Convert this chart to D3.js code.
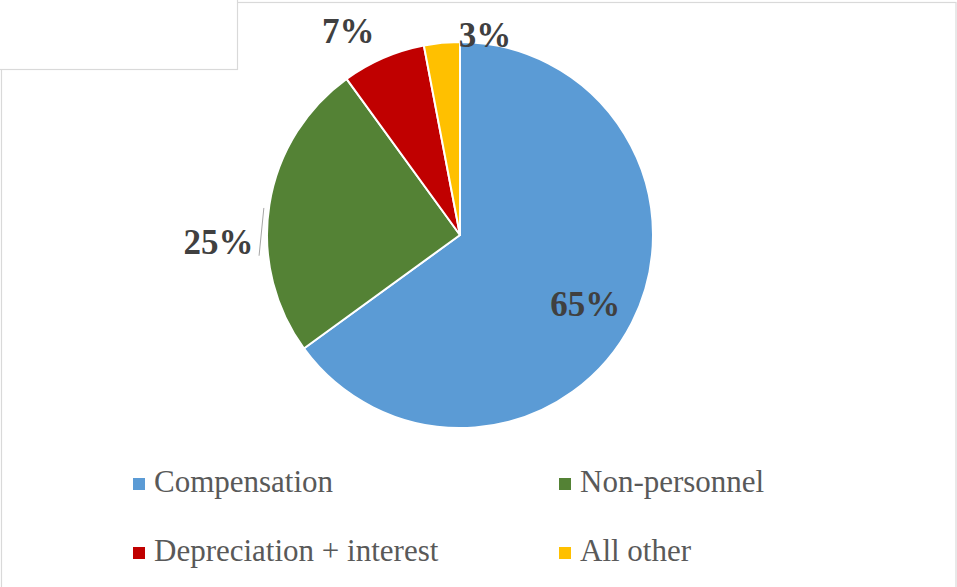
<!DOCTYPE html>
<html>
<head>
<meta charset="utf-8">
<script src="https://cdn.jsdelivr.net/npm/d3@7"></script>
<style>
  html, body { margin: 0; padding: 0; background: #fff; }
  svg { display: block; }
</style>
</head>
<body>
<svg id="chart" width="957" height="587"></svg>
<script>
// Spending shares by category
const categories = ["Compensation", "Non-personnel", "Depreciation + interest", "All other"];
const shares = [65, 25, 7, 3];
const labels = ["65%", "25%", "7%", "3%"];
const colors = ["#5B9BD5", "#548235", "#C00000", "#FFC000"];

const W = 957, H = 587;
const cx = 460, cy = 235, R = 193;

const svg = d3.select("#chart");

// pick the first installed serif face (measured against a monospace fallback)
function pickSerif() {
  const probe = svg.append("text").attr("x", -999).attr("y", -999)
    .style("font-size", "40px").text("Compensation Wwi 0123");
  probe.style("font-family", "monospace");
  const base = probe.node().getComputedTextLength();
  const candidates = ["Liberation Serif", "Times New Roman", "Tinos", "DejaVu Serif", "Noto Serif", "FreeSerif"];
  let found = "serif";
  for (const c of candidates) {
    probe.style("font-family", `"${c}", monospace`);
    if (Math.abs(probe.node().getComputedTextLength() - base) > 0.5) { found = `"${c}", serif`; break; }
  }
  probe.remove();
  return found;
}
const serifFont = pickSerif();

// chart frame
svg.append("rect")
  .attr("x", 1.5).attr("y", 2.5)
  .attr("width", W - 2.5).attr("height", H)
  .attr("fill", "#fff").attr("stroke", "#d9d9d9").attr("stroke-width", 1.2);

// small overlapping panel at the top-left
svg.append("rect")
  .attr("x", -2).attr("y", -2)
  .attr("width", 239.5).attr("height", 71.5)
  .attr("fill", "#fff").attr("stroke", "#d9d9d9").attr("stroke-width", 1.2);

const color = d3.scaleOrdinal().domain(categories).range(colors);

const pie = d3.pie().sort(null).value(d => d.value)
  .startAngle(0).endAngle(2 * Math.PI);
const arcs = pie(categories.map((c, i) => ({ name: c, value: shares[i], label: labels[i] })));

const arc = d3.arc().innerRadius(0).outerRadius(R);

const g = svg.append("g").attr("transform", `translate(${cx},${cy})`);

g.selectAll("path.slice")
  .data(arcs)
  .join("path")
  .attr("class", "slice")
  .attr("d", arc)
  .attr("fill", d => color(d.data.name))
  .attr("stroke", "#fff")
  .attr("stroke-width", 2)
  .attr("stroke-linejoin", "round");

// data label placement: inside for the large slice, outside (best fit) for the rest
const placement = {
  "Compensation":            { r: 0.74, anchor: "middle", dx: -2, dy: 16 },
  "Non-personnel":           { r: 1.0,  anchor: "end",    dx: -6, dy: 51 },
  "Depreciation + interest": { r: 1.12, anchor: "middle", dx: -22, dy: 16 },
  "All other":               { r: 1.0,  anchor: "middle", dx: 44, dy: 14 }
};

function labelPos(d) {
  const p = placement[d.data.name];
  const a = (d.startAngle + d.endAngle) / 2;
  const rr = R * p.r + (p.r >= 1 ? 10 : 0);
  return [Math.sin(a) * rr + p.dx, -Math.cos(a) * rr + p.dy];
}

// leader line for the 25% label, running along the slice edge
const nonPers = arcs[1];
const la = (nonPers.startAngle + nonPers.endAngle) / 2;
const leader = d3.lineRadial().angle(d => d[0]).radius(d => d[1]);
g.append("path")
  .attr("d", leader([[la - 0.26, R + 9], [la - 0.02, R + 5]]))
  .attr("fill", "none")
  .attr("stroke", "#a6a6a6")
  .attr("stroke-width", 1);

g.selectAll("text.value")
  .data(arcs)
  .join("text")
  .attr("class", "value")
  .attr("x", d => labelPos(d)[0])
  .attr("y", d => labelPos(d)[1])
  .attr("text-anchor", d => placement[d.data.name].anchor)
  .style("font-family", serifFont)
  .style("font-weight", "bold")
  .style("font-size", "35px")
  .attr("fill", "#404040")
  .text(d => d.data.label);

// legend: two columns, two rows
const legendX = d3.scaleOrdinal().domain([0, 1]).range([133, 559]);
const legendY = d3.scaleOrdinal().domain([0, 1]).range([492, 561]);

const legend = svg.append("g")
  .selectAll("g")
  .data(categories)
  .join("g")
  .attr("transform", (d, i) => `translate(${legendX(i % 2)},${legendY(Math.floor(i / 2))})`);

legend.append("rect")
  .attr("x", 0).attr("y", -14)
  .attr("width", 12).attr("height", 12)
  .attr("fill", d => color(d));

legend.append("text")
  .attr("x", 21).attr("y", 0)
  .style("font-family", serifFont)
  .style("font-size", "31px")
  .attr("fill", "#595959")
  .text(d => d);
</script>
</body>
</html>
